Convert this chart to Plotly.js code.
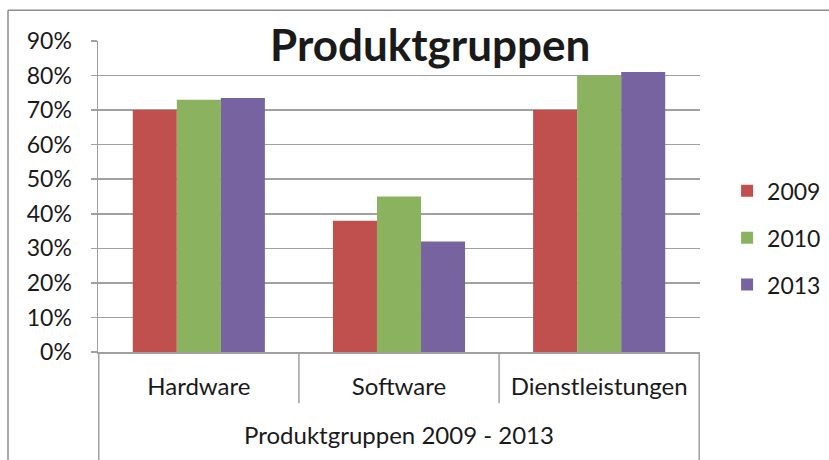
<!DOCTYPE html>
<html><head><meta charset="utf-8">
<script src="https://cdn.plot.ly/plotly-3.0.1.min.js"></script>
<style>html,body{margin:0;padding:0;background:#fff}#chart{width:829px;height:460px}</style>
</head><body><div id="chart"></div>
<script>
const categories = ["Hardware", "Software", "Dienstleistungen"];
const seriesNames = ["2009", "2010", "2013"];
const v2009 = [70, 38, 70];
const v2010 = [73, 45, 80];
const v2013 = [73.5, 32, 81];
const yTicks = [0, 10, 20, 30, 40, 50, 60, 70, 80, 90];
const yTickText = yTicks.map(v => v + "%");
const colors = ["#C0504D", "#8BB35F", "#7663A0"];
const FONT = "Lato, 'Open Sans', sans-serif";

const traces = [v2009, v2010, v2013].map((vals, i) => ({
  type: "bar", name: seriesNames[i], x: categories, y: vals, legendgroup: "g" + i,
  marker: {color: colors[i], line: {width: 0}}, hoverinfo: "none"
}));

const lineCol = "#A0A0A0";
const shapes = [];
[0.5, 1.5].forEach(b => shapes.push({type: "line", xref: "x", yref: "paper", x0: b, x1: b, y0: 0, y1: -0.165, line: {color: lineCol, width: 1.5}}));
[-0.5, 2.5].forEach(b => shapes.push({type: "line", xref: "x", yref: "paper", x0: b, x1: b, y0: 0, y1: -0.36, line: {color: lineCol, width: 1.5}}));
shapes.push({type: "line", xref: "paper", yref: "paper", x0: -0.1495, x1: 1.3, y0: 1.099, y1: 1.099, line: {color: "#8c8c8c", width: 1.5}});
shapes.push({type: "line", xref: "paper", yref: "paper", x0: -0.1495, x1: -0.1495, y0: 1.099, y1: -0.4, line: {color: "#8c8c8c", width: 1.5}});

const layout = {
  width: 829, height: 460,
  margin: {l: 98, r: 129, t: 41, b: 108, autoexpand: false},
  paper_bgcolor: "#fff", plot_bgcolor: "#fff",
  font: {family: FONT, color: "#1a1a1a", size: 22},
  barmode: "group", bargap: 0.34, bargroupgap: 0,
  showlegend: true,
  legend: {x: 1.045, y: 0.367, xanchor: "left", yanchor: "middle", font: {size: 23, family: FONT}, tracegroupgap: 14, itemwidth: 30, traceorder: "grouped"},
  xaxis: {
    type: "category", showgrid: false, showline: true, linecolor: lineCol, linewidth: 1.5,
    ticks: "", showticklabels: true, tickfont: {size: 24, family: FONT},
    ticklabelstandoff: 13, fixedrange: true,
    title: {text: "Produktgruppen 2009 - 2013", font: {size: 24, family: FONT}, standoff: 28}
  },
  yaxis: {
    range: [0, 90], tickvals: yTicks, ticktext: yTickText, showgrid: true,
    gridcolor: lineCol, gridwidth: 1.5, showline: true, linecolor: lineCol, linewidth: 1.5,
    ticks: "outside", ticklen: 6, tickcolor: lineCol, tickwidth: 1.5,
    tickfont: {size: 23, family: FONT}, ticklabelstandoff: 14, zeroline: false, fixedrange: true
  },
  shapes: shapes,
  annotations: [{
    text: "<b>Produktgruppen</b>", xref: "paper", yref: "paper", x: 0.551, y: 0.99,
    xanchor: "center", yanchor: "middle", showarrow: false,
    font: {size: 44, family: FONT, color: "#1a1a1a"}
  }]
};
Plotly.newPlot("chart", traces, layout, {staticPlot: true, displayModeBar: false});
</script>
</body></html>
